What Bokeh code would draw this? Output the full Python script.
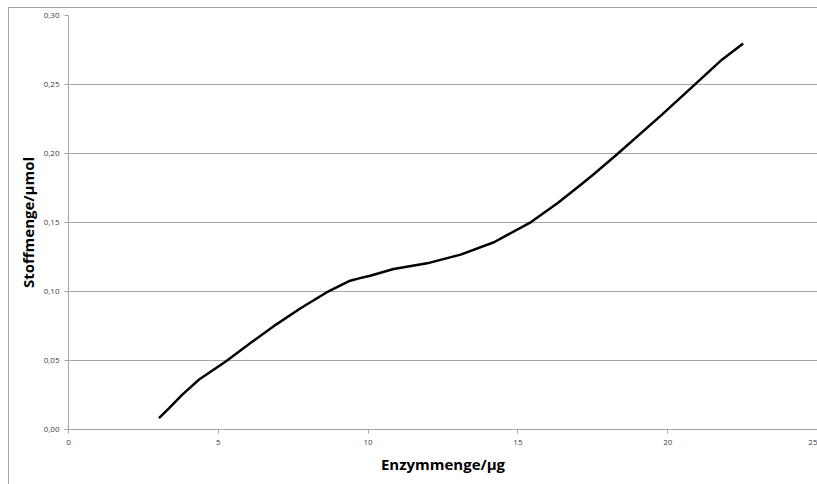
from bokeh.plotting import figure
from bokeh.models import Range1d, FixedTicker, CustomJSTickFormatter
from bokeh.embed import file_html
from bokeh.resources import INLINE

enzym_ug = [3.02, 3.36, 3.80, 4.36, 5.26, 6.04, 6.94, 7.72, 8.61, 9.40,
            9.73, 10.07, 10.85, 11.97, 13.09, 14.20, 15.44, 16.33, 17.11, 17.56,
            18.34, 19.80, 20.92, 21.81, 22.52]
stoff_umol = [0.0082, 0.0155, 0.0253, 0.0362, 0.0495, 0.0621, 0.0762, 0.0875, 0.0993, 0.1078,
              0.1097, 0.1114, 0.1163, 0.1204, 0.1267, 0.1357, 0.1503, 0.1641, 0.1775, 0.1855,
              0.2000, 0.2280, 0.2503, 0.2680, 0.2797]
x_ticks = [0, 5, 10, 15, 20, 25]
y_ticks = [0.0, 0.05, 0.10, 0.15, 0.20, 0.25, 0.30]

p = figure(width=809, height=477, output_backend="svg", toolbar_location=None,
           x_range=Range1d(0, 25), y_range=Range1d(0, 0.30),
           min_border_left=59, min_border_right=1, min_border_top=7, min_border_bottom=56)
p.margin = (7, 0, 0, 8)
p.styles = {"border-left": "1px solid #a6a6a6", "border-top": "1px solid #a6a6a6"}
p.outline_line_color = None
p.background_fill_color = "white"
p.border_fill_color = "white"

p.line(enzym_ug, stoff_umol, line_color="black", line_width=2.5, line_join="round")

font = "Open Sans"
grey = "#a6a6a6"
for ax in (p.xaxis[0], p.yaxis[0]):
    ax.axis_line_color = grey
    ax.major_tick_line_color = grey
    ax.minor_tick_line_color = None
    ax.major_tick_in = 0
    ax.major_tick_out = 4
    ax.major_label_text_font = font
    ax.major_label_text_font_size = "8px"
    ax.major_label_text_color = "#404040"
    ax.axis_label_text_font = font
    ax.axis_label_text_font_style = "bold"
    ax.axis_label_text_font_size = "15px"
    ax.axis_label_text_color = "black"

p.xaxis.ticker = FixedTicker(ticks=x_ticks)
p.yaxis.ticker = FixedTicker(ticks=y_ticks)
p.yaxis.formatter = CustomJSTickFormatter(code="return tick.toFixed(2).replace('.', ',');")
p.xaxis.formatter = CustomJSTickFormatter(code="return tick.toFixed(0);")
p.xaxis.axis_label = "Enzymmenge/µg"
p.yaxis.axis_label = "Stoffmenge/µmol"
p.xaxis.major_label_standoff = 6
p.yaxis.major_label_standoff = 5
p.xaxis.axis_label_standoff = 6
p.yaxis.axis_label_standoff = 3

p.xgrid.grid_line_color = None
p.ygrid.grid_line_color = grey
p.ygrid.grid_line_width = 1

open("out.html", "w").write(file_html(p, INLINE))
